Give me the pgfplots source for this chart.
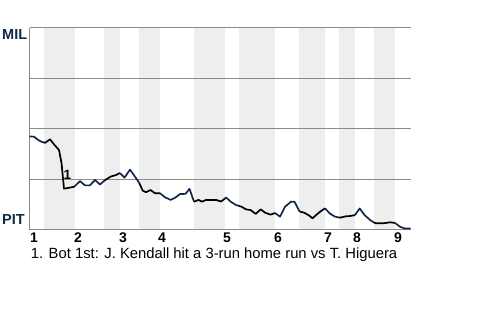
\documentclass[border=0pt]{standalone}
\usepackage{fontspec}
\setmainfont{Liberation Sans}
\usepackage{pgfplots}
\pgfplotsset{compat=1.18}
\definecolor{navy}{HTML}{12284B}
\definecolor{band}{HTML}{EEEEEE}
\definecolor{gridc}{HTML}{8A8A8A}
\begin{document}
\begin{tikzpicture}
\path[use as bounding box] (0,0) rectangle (480bp,320bp);
\begin{axis}[at={(29.5bp,90bp)}, anchor=south west, scale only axis,
  width=381bp, height=202bp, xmin=29.5, xmax=410.5, ymin=0, ymax=100,
  hide axis, clip=false]
% bottom halves (PIT batting)
\fill[band] (axis cs:44,0) rectangle (axis cs:75,100);
\fill[band] (axis cs:104,0) rectangle (axis cs:120,100);
\fill[band] (axis cs:139,0) rectangle (axis cs:160,100);
\fill[band] (axis cs:194,0) rectangle (axis cs:225,100);
\fill[band] (axis cs:239,0) rectangle (axis cs:275,100);
\fill[band] (axis cs:299,0) rectangle (axis cs:325,100);
\fill[band] (axis cs:339,0) rectangle (axis cs:355,100);
\fill[band] (axis cs:374,0) rectangle (axis cs:395,100);
% grid
\draw[gridc, line width=1bp] (axis cs:29.5,25) -- (axis cs:410.5,25);
\draw[gridc, line width=1bp] (axis cs:29.5,50) -- (axis cs:410.5,50);
\draw[gridc, line width=1bp] (axis cs:29.5,75) -- (axis cs:410.5,75);
\draw[gridc, line width=1bp] (axis cs:29.5,100) -- (axis cs:410.5,100);
\draw[gridc, line width=1bp] (axis cs:29.5,0) -- (axis cs:410.5,0);
\draw[gridc, line width=1bp] (axis cs:29.5,0) -- (axis cs:29.5,100);
\pgfplotsset{every axis plot/.append style={line width=1.7bp, line join=round, mark=none}}
% Top 1
\addplot[navy] coordinates {(29.5,46.3) (34,46.2) (38,44.6) (41.5,43.7) (44,43.3)};
% Bot 1
\addplot[black] coordinates {(44,43.3) (45.3,43.2) (50,44.9) (54.5,42.1) (59,39.6) (61.5,33.2) (64,20.5) (68,20.8) (74,21.4) (75,21.8)};
% Top 2
\addplot[navy] coordinates {(75,21.8) (80,24.2) (85,22.1) (90,22.1) (95,24.8) (100,22.5) (104,24.3)};
% Bot 2
\addplot[black] coordinates {(104,24.3) (106,25.0) (111,26.5) (116,27.2) (120,28.2)};
% Top 3
\addplot[navy] coordinates {(120,28.2) (124.5,25.9) (130,29.9) (135,26.4) (139,23.5)};
% Bot 3
\addplot[black] coordinates {(139,23.5) (142.7,19.5) (146,18.7) (150.5,19.8) (155,18.2) (160,18.2)};
% Top 4
\addplot[navy] coordinates {(160,18.2) (165,16.2) (170.7,14.9) (175.5,16.1) (180,17.8) (185.5,17.9) (189.5,20.4) (194,14.0)};
% Bot 4
\addplot[black] coordinates {(194,14.0) (198.5,14.9) (202,14.0) (206,14.9) (210,14.9) (216,14.9) (221,14.1) (225,15.6)};
% Top 5
\addplot[navy] coordinates {(225,15.6) (226,16.1) (231,13.9) (236,12.4) (239,11.9)};
% Bot 5
\addplot[black] coordinates {(239,11.9) (241.7,11.5) (246,10.2) (250.5,9.9) (255.7,8.0) (260.7,10.2) (265,8.6) (270.5,7.6) (275,8.4)};
% Top 6
\addplot[navy] coordinates {(275,8.4) (280,6.6) (285,11.5) (291,14.0) (294.5,14.0) (299.5,9.2)};
% Bot 6
\addplot[black] coordinates {(299.5,9.2) (304.5,8.5) (309,7.2) (312.5,5.8) (317,7.8) (321,9.4) (325,10.7)};
% Top 7
\addplot[navy] coordinates {(325,10.7) (330,8.1) (335,6.6) (339,6.2)};
% Bot 7
\addplot[black] coordinates {(339,6.2) (340,6.1) (346,6.8) (350,6.9) (355,7.4)};
% Top 8
\addplot[navy] coordinates {(355,7.4) (359.7,10.7) (364.5,7.4) (370,5.0) (374,3.7)};
% Bot 8
\addplot[black] coordinates {(374,3.7) (376,3.3) (383,3.3) (390,3.8) (395,3.5)};
% Top 9
\addplot[navy] coordinates {(395,3.5) (400,1.6) (405,0.7) (410.5,0.7)};
\end{axis}
\begin{scope}[every node/.style={inner sep=0, anchor=base west}]
\node[font=\bfseries\fontsize{14.5bp}{16bp}\selectfont, text=navy] at (2bp,280bp) {MIL};
\node[font=\bfseries\fontsize{14.5bp}{16bp}\selectfont, text=navy] at (2bp,95bp) {PIT};
\node[font=\bfseries\fontsize{13.5bp}{15bp}\selectfont] at (63.5bp,140bp) {1};
\foreach \x/\n in {30/1,74/2,119/3,158/4,223/5,274/6,324/7,353/8,394/9}
  \node[font=\bfseries\fontsize{14bp}{16bp}\selectfont] at (\x bp,77bp) {\n};
\node[font=\fontsize{14.8bp}{16bp}\selectfont] at (30.7bp,61.5bp) {1. Bot 1st: J. Kendall hit a 3-run home run vs T. Higuera};
\end{scope}
\end{tikzpicture}
\end{document}
